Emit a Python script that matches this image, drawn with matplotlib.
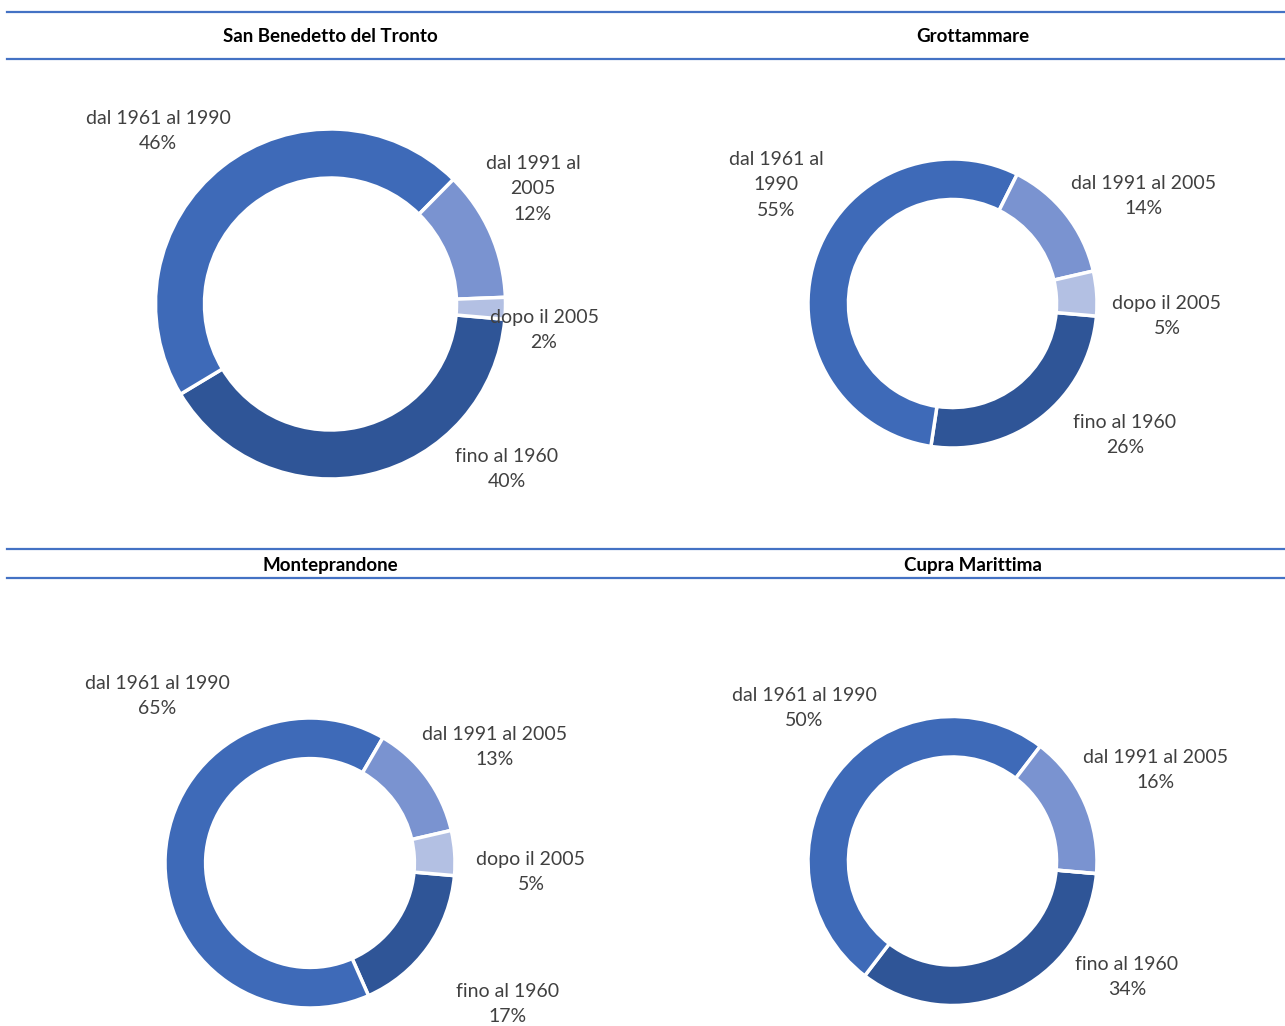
import matplotlib
matplotlib.use("Agg")
import matplotlib.pyplot as plt
from matplotlib.lines import Line2D

W, H = 1285, 1026

titles = ["San Benedetto del Tronto", "Grottammare", "Monteprandone", "Cupra Marittima"]
categories = ["fino al 1960", "dal 1961 al 1990", "dal 1991 al 2005", "dopo il 2005"]
sbt = [40, 46, 12, 2]
grottammare = [26, 55, 14, 5]
monteprandone = [17, 65, 13, 5]
cupra = [34, 50, 16, 0]
series = [sbt, grottammare, monteprandone, cupra]

colors = ["#2F5597", "#3E6AB8", "#7A93D0", "#B3C0E3"]
text_color = "#404040"
line_color = "#4472C4"
font = "Lato"

# layout (pixels): donut centre, outer radius
layout = [
    (330.5, 304, 175),
    (952.5, 303.5, 144.5),
    (310, 863, 145),
    (952.5, 861, 144.5),
]
# label text centres (pixels), per chart, per category; None = no label
label_pos = [
    [(507, 469), (158, 131), (533, 189), (544, 330)],
    [(1125, 435), (776, 185), (1144, 196), (1167, 316)],
    [(508, 1004), (157, 696), (495, 747), (531, 872)],
    [(1127, 977), (804, 708), (1156, 770), None],
]
# how label names are wrapped in each chart
label_names = [
    ["fino al 1960", "dal 1961 al 1990", "dal 1991 al\n2005", "dopo il 2005"],
    ["fino al 1960", "dal 1961 al\n1990", "dal 1991 al 2005", "dopo il 2005"],
    ["fino al 1960", "dal 1961 al 1990", "dal 1991 al 2005", "dopo il 2005"],
    ["fino al 1960", "dal 1961 al 1990", "dal 1991 al 2005", "dopo il 2005"],
]
title_pos = [(330, 37), (973, 37), (330, 565), (973, 565)]

fig = plt.figure(figsize=(W / 100, H / 100), dpi=100)

for i, vals in enumerate(series):
    cx, cy, R = layout[i]
    ax = fig.add_axes([(cx - R) / W, 1 - (cy + R) / H, 2 * R / W, 2 * R / H])
    ax.pie(vals, colors=colors, startangle=-5, counterclock=False, radius=1,
           wedgeprops=dict(width=0.28, edgecolor="white", linewidth=2.5))
    ax.set_xlim(-1, 1)
    ax.set_ylim(-1, 1)
    ax.set_aspect("equal")
    ax.axis("off")
    for j, v in enumerate(vals):
        p = label_pos[i][j]
        if p is None or v == 0:
            continue
        lx, ly = p
        ax.text((lx - cx) / R, (cy - ly) / R, f"{label_names[i][j]}\n{v}%",
                ha="center", va="center", fontsize=14, color=text_color,
                family=font, linespacing=1.58, clip_on=False)
    tx, ty = title_pos[i]
    fig.text(tx / W, 1 - ty / H, titles[i], ha="center", va="center",
             fontsize=13.5, fontweight="bold", color="black", family=font)

for y in (12, 59, 549, 578):
    fig.add_artist(Line2D([7 / W, 1.0], [1 - y / H, 1 - y / H], color=line_color,
                          linewidth=1.6, transform=fig.transFigure))

fig.savefig("out.png", dpi=100, facecolor="white")
